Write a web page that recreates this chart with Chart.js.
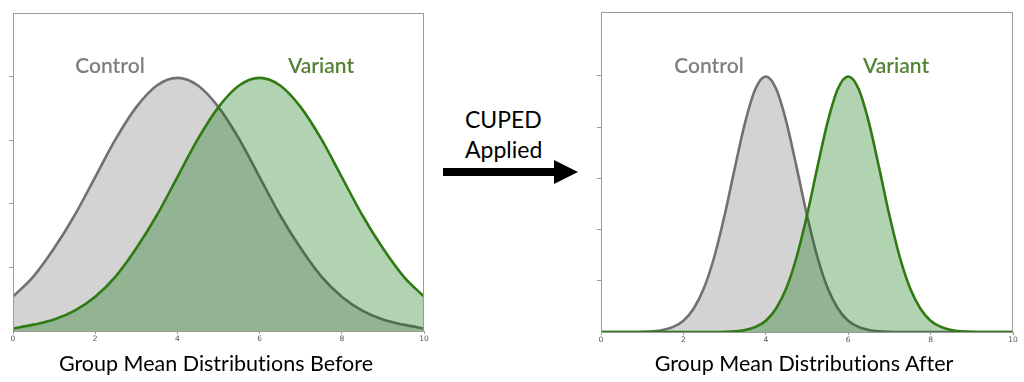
<!DOCTYPE html>
<html>
<head>
<meta charset="utf-8">
<script src="https://cdn.jsdelivr.net/npm/chart.js@4/dist/chart.umd.min.js"></script>
<style>
  html, body { margin: 0; padding: 0; background: #fff; }
  #page { position: relative; width: 1024px; height: 382px; overflow: hidden; font-family: Lato, "Open Sans", sans-serif; font-variant-ligatures: none; }
  .box { position: absolute; top: 0; height: 382px; }
  .lbl { position: absolute; transform: translate(-50%, -50%); line-height: 1; white-space: nowrap; }
  .ctl { color: #7f7f7f; font-size: 21px; font-weight: 600; }
  .var { color: #548235; font-size: 21px; font-weight: 600; }
  .ttl { color: #000; font-size: 21.5px; }
  .mid { position: absolute; left: 465px; line-height: 1; font-size: 23px; color: #000; transform: translateY(-50%); }
</style>
</head>
<body>
<div id="page">
  <div class="box" style="left:0;width:430px"><canvas id="before"></canvas></div>
  <div class="box" style="left:588px;width:436px"><canvas id="after"></canvas></div>

  <div class="lbl ctl" style="left:110px;top:64px">Control</div>
  <div class="lbl var" style="left:321px;top:64px">Variant</div>
  <div class="lbl ctl" style="left:709px;top:64px">Control</div>
  <div class="lbl var" style="left:896px;top:64px">Variant</div>

  <div class="lbl ttl" style="left:216px;top:364px">Group Mean Distributions Before</div>
  <div class="lbl ttl" style="left:804px;top:364px">Group Mean Distributions After</div>

  <div class="mid" style="top:119px">CUPED</div>
  <div class="mid" style="top:149px">Applied</div>
  <svg style="position:absolute;left:0;top:0" width="1024" height="382">
    <rect x="443" y="168" width="114" height="8" fill="#000"/>
    <polygon points="554,160 578,172 554,184" fill="#000"/>
  </svg>
</div>

<script>
// before: x from 0 to 10, step 0.5
const xBefore = [0, 0.5, 1, 1.5, 2, 2.5, 3, 3.5, 4, 4.5, 5, 5.5, 6, 6.5, 7, 7.5, 8, 8.5, 9, 9.5, 10];
const controlBefore = [0.027, 0.043, 0.065, 0.091, 0.121, 0.151, 0.176, 0.193, 0.199, 0.193, 0.176, 0.151, 0.121, 0.091, 0.065, 0.043, 0.027, 0.016, 0.009, 0.005, 0.002];
const variantBefore = [0.002, 0.005, 0.009, 0.016, 0.027, 0.043, 0.065, 0.091, 0.121, 0.151, 0.176, 0.193, 0.199, 0.193, 0.176, 0.151, 0.121, 0.091, 0.065, 0.043, 0.027];

// after: x from 0 to 10, step 0.25
const xAfter = [0, 0.25, 0.5, 0.75, 1, 1.25, 1.5, 1.75, 2, 2.25, 2.5, 2.75, 3, 3.25, 3.5, 3.75, 4, 4.25, 4.5, 4.75, 5,
  5.25, 5.5, 5.75, 6, 6.25, 6.5, 6.75, 7, 7.25, 7.5, 7.75, 8, 8.25, 8.5, 8.75, 9, 9.25, 9.5, 9.75, 10];
const controlAfter = [0, 0, 0, 0, 0.0004, 0.0014, 0.004, 0.010, 0.022, 0.046, 0.086, 0.147, 0.228, 0.321, 0.410, 0.475, 0.499,
  0.475, 0.410, 0.321, 0.228, 0.147, 0.086, 0.046, 0.022, 0.010, 0.004, 0.0014, 0.0004, 0, 0, 0, 0, 0, 0, 0, 0, 0, 0, 0, 0];
const variantAfter = [0, 0, 0, 0, 0, 0, 0, 0, 0, 0, 0, 0, 0.0004, 0.0014, 0.004, 0.010, 0.022, 0.046, 0.086, 0.147, 0.228,
  0.321, 0.410, 0.475, 0.499, 0.475, 0.410, 0.321, 0.228, 0.147, 0.086, 0.046, 0.022, 0.010, 0.004, 0.0014, 0.0004, 0, 0, 0, 0];

const xTicks = [0, 2, 4, 6, 8, 10];

const frame = {
  id: "frame",
  afterDatasetsDraw(chart) {
    const a = chart.chartArea, c = chart.ctx;
    c.save();
    c.strokeStyle = "#9a9a9a";
    c.lineWidth = 1;
    c.strokeRect(a.left + 0.5, a.top + 0.5, a.right - a.left - 1, a.bottom - a.top);
    c.restore();
  }
};

function makeChart(id, xs, ctl, vari, yMax, yStep, pad) {
  const pts = (ys) => xs.map((x, i) => ({ x: x, y: ys[i] }));
  return new Chart(document.getElementById(id), {
    type: "line",
    data: {
      datasets: [
        { data: pts(vari), borderColor: "#2f7a12", backgroundColor: "rgba(0,108,0,0.3)", borderWidth: 2.6, fill: "origin", order: 0 },
        { data: pts(ctl), borderColor: "#717171", backgroundColor: "#d3d3d3", borderWidth: 2.6, fill: "origin", order: 1 }
      ]
    },
    options: {
      responsive: true,
      maintainAspectRatio: false,
      animation: false,
      layout: { padding: pad },
      elements: { point: { radius: 0 }, line: { cubicInterpolationMode: "monotone" } },
      plugins: { legend: { display: false }, tooltip: { enabled: false } },
      scales: {
        x: {
          type: "linear", min: 0, max: 10,
          afterBuildTicks: (s) => { s.ticks = xTicks.map((v) => ({ value: v })); },
          afterFit: (s) => { s.height = 382 - pad.top - pad.bottom - (pad.plotH); },
          border: { display: false },
          grid: { drawOnChartArea: false, drawTicks: true, tickLength: 3, color: "#9a9a9a" },
          ticks: { font: { size: 7.5, family: "DejaVu Sans" }, color: "#555", padding: 1, maxRotation: 0 }
        },
        y: {
          min: 0, max: yMax,
          afterBuildTicks: (s) => { s.ticks = s.ticks.filter((t) => t.value > 0 && t.value < yMax - 1e-6); },
          afterFit: (s) => { s.width = 13; },
          border: { display: false },
          grid: { drawOnChartArea: false, drawTicks: true, tickLength: 4, color: "#9a9a9a" },
          ticks: { display: false, stepSize: yStep }
        }
      }
    },
    plugins: [frame]
  });
}

makeChart("before", xBefore, controlBefore, variantBefore, 0.25, 0.05, { top: 13, right: 6, left: 0, bottom: 0, plotH: 318 });
makeChart("after", xAfter, controlAfter, variantAfter, 0.625, 0.1, { top: 12, right: 11, left: 0, bottom: 0, plotH: 320 });
</script>
</body>
</html>
